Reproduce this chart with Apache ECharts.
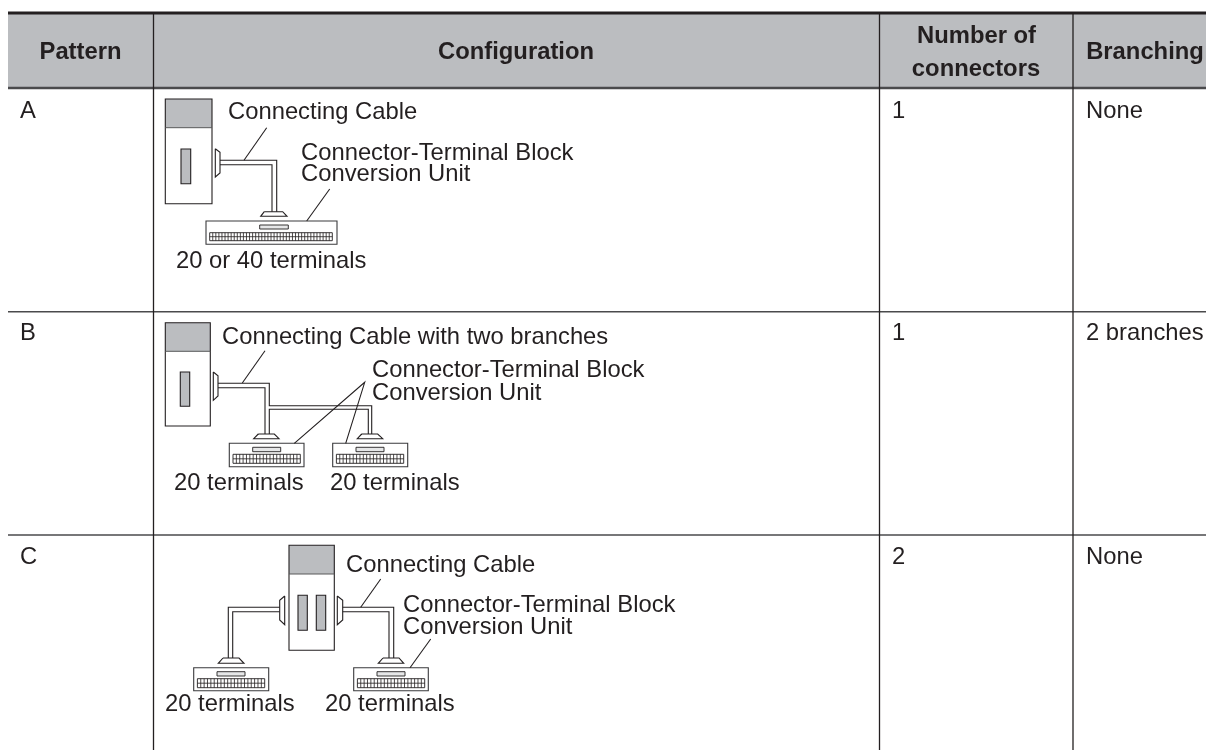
<!DOCTYPE html>
<html><head><meta charset="utf-8">
<style>html,body{margin:0;padding:0;background:#fff}#c{width:1206px;height:751px}</style>
<script src="https://cdn.jsdelivr.net/npm/echarts@6/dist/echarts.min.js"></script>
</head><body><div id="c"></div>
<script>
// ---------- table content ----------
const headers = [['Pattern',80.5,52],['Configuration',516,52],['Number of',976.5,36],['connectors',976,69.5],['Branching',1145,52]];
const patterns = [['A',20,111],['B',20,333],['C',20,557]];
const connectorCounts = [['1',892,111],['1',892,333],['2',892,557]];
const branching = [['None',1086,111],['2 branches',1086,333],['None',1086,557]];
const captions = [
  ['Connecting Cable',228,112],['Connector-Terminal Block',301,153.5],['Conversion Unit',301,174.5],['20 or 40 terminals',176,261],
  ['Connecting Cable with two branches',222,337],['Connector-Terminal Block',372,370],['Conversion Unit',372,393.5],['20 terminals',174,483.5],['20 terminals',330,483.5],
  ['Connecting Cable',346,565.5],['Connector-Terminal Block',403,605],['Conversion Unit',403,627.5],['20 terminals',165,704.5],['20 terminals',325,704.5]
];
// ---------- table rules: x0,y0,x1,y1,width,colour index ----------
const headerBand = [[8,14,1206,87]];
const tableRules = [
  [8,13,1206,13,3,0],[8,88,1206,88,2.5,1],[8,311.7,1206,311.7,1.6,1],[8,535,1206,535,1.6,1],
  [153.5,14,153.5,750,1.3,0],[879.5,14,879.5,750,1.3,0],[1073,14,1073,750,1.3,0]
];
// ---------- diagram pieces ----------
const units = [[165.3,99,212,203.7,127.7],[165.3,322.7,210.3,426,351.3],[289,545.3,334.3,650.3,574]];
const slots = [[181,149,190.7,183.7],[180.3,372,189.7,406.3],[298,595.3,307.3,630.3],[316.3,595.3,325.7,630.3]];
const blocks = [[206,221,337,244.3],[229.3,443.3,304,466.7],[332.7,443.3,407.7,466.7],[193.7,667.7,268.7,690.7],[353.7,667.7,428.3,690.7]];
const bars = [[259.7,225,288.3,229],[252.7,447.3,280.7,451.7],[356,447.3,384,451.7],[217,671.7,245,676],[377,671.7,405,676]];
const strips = [[209.7,232.7,332.3,240.7,40],[233,454.3,300.3,463.3,20],[336.4,454.3,403.7,463.3,20],[197.4,678.7,264.7,687.7,20],[357.4,678.7,424.7,687.7,20]];
const wires = [
  // pattern A
  [[215.3,148.7],[220,152.3],[220,173],[215.3,177],[215.3,148.7]],
  [[220,160.3],[276.7,160.3],[276.7,211.7]],[[220,164.7],[272,164.7],[272,211.7]],
  [[264.3,211.7],[282.7,211.7],[287,216.3],[260.7,216.3],[264.3,211.7]],
  [[266.7,127.7],[244,160.3]],[[329.7,189],[306.7,221]],
  // pattern B
  [[213.3,372],[218,375.7],[218,396],[213.3,400.3],[213.3,372]],
  [[218,383.3],[269.3,383.3],[269.3,405.7],[371.7,405.7],[371.7,434]],
  [[218,387.7],[265,387.7],[265,434]],
  [[269.3,434],[269.3,409.3],[368.3,409.3],[368.3,434]],
  [[258.3,434],[274.3,434],[279,438.7],[253.7,438.7],[258.3,434]],
  [[361.7,434],[377.7,434],[382.7,438.7],[357.3,438.7],[361.7,434]],
  [[265,350.7],[242.3,383]],[[294.3,443.3],[364.7,382.3],[345.7,443.3]],
  // pattern C
  [[337.3,596],[342.7,600.3],[342.7,620],[337.3,624.7],[337.3,596]],
  [[284.7,596],[279.7,600.3],[279.7,620],[284.7,624.7],[284.7,596]],
  [[342.7,607.3],[393.7,607.3],[393.7,658]],[[342.7,611.7],[389,611.7],[389,658]],
  [[279.7,607.3],[228.3,607.3],[228.3,658]],[[279.7,611.7],[232.7,611.7],[232.7,658]],
  [[223,658],[239,658],[244,663.3],[218.3,663.3],[223,658]],
  [[383,658],[399,658],[403.7,663.3],[378.3,663.3],[383,658]],
  [[380.7,579],[360.7,607.3]],[[430.7,639],[410,667.7]]
];
const INK = '#231f20', RULE = '#4a4a4c', GREY = '#bbbdc0';
const ruleColours = [INK, RULE];
const FONT = '"Liberation Sans", Arial, sans-serif';
const TEXT_SIZE = 23.8;

function rectEl(api, b, style) {
  const p = api.coord([b[0], b[1]]), q = api.coord([b[2], b[3]]);
  return {type:'rect', shape:{x:p[0], y:p[1], width:q[0]-p[0], height:q[1]-p[1]}, style};
}
function lineEl(api, pts, w, c) {
  return {type:'polyline', shape:{points:pts.map(v=>api.coord(v))}, style:{fill:'none', stroke:c, lineWidth:w, lineJoin:'miter'}};
}
function textEl(api, t, weight, align) {
  const p = api.coord([t[1], t[2]]);
  return {type:'text', x:p[0], y:p[1], style:{text:t[0], fill:INK, font:weight+' '+TEXT_SIZE+'px '+FONT, align:align||'left', verticalAlign:'middle'}};
}
function custom(list, fn, z) {
  return {type:'custom', coordinateSystem:'cartesian2d', clip:false, silent:true, z:z||2, animation:false,
    data:list.map((_, i)=>[i,0]), encode:{x:0,y:1}, renderItem:(params, api)=>fn(api, list[params.dataIndex])};
}
const opt = {
  animation:false, backgroundColor:'#fff',
  grid:{left:0,top:0,right:0,bottom:0},
  xAxis:{type:'value',min:0,max:1206,show:false},
  yAxis:{type:'value',min:0,max:751,inverse:true,show:false},
  series:[
    custom(headerBand,(a,b)=>rectEl(a,b,{fill:GREY}),1),
    custom(tableRules,(a,r)=>lineEl(a,[[r[0],r[1]],[r[2],r[3]]],r[4],ruleColours[r[5]]),5),
    custom(units,(a,u)=>({type:'group',children:[
      rectEl(a,[u[0],u[1],u[2],u[4]],{fill:GREY}),
      rectEl(a,[u[0],u[1],u[2],u[3]],{fill:'none',stroke:INK,lineWidth:1.1}),
      lineEl(a,[[u[0],u[4]],[u[2],u[4]]],1,'#58595b')]})),
    custom(slots,(a,s)=>rectEl(a,s,{fill:GREY,stroke:INK,lineWidth:1.1})),
    custom(blocks,(a,s)=>rectEl(a,s,{fill:'#fff',stroke:'#3a3a3c',lineWidth:1.1})),
    custom(bars,(a,s)=>rectEl(a,s,{fill:'#e6e7e8',stroke:INK,lineWidth:0.9}),3),
    custom(strips,(a,s)=>{
      const kids=[rectEl(a,s,{fill:'#fff',stroke:INK,lineWidth:0.9}),
        lineEl(a,[[s[0],(s[1]+s[3])/2],[s[2],(s[1]+s[3])/2]],0.8,INK)];
      for(let i=1;i<s[4];i++){const x=s[0]+(s[2]-s[0])*i/s[4];kids.push(lineEl(a,[[x,s[1]],[x,s[3]]],0.8,INK));}
      return {type:'group',children:kids};
    },3),
    custom(wires,(a,w)=>lineEl(a,w,1.1,INK),4),
    custom(headers,(a,t)=>textEl(a,t,'bold','center'),6),
    custom(patterns,(a,t)=>textEl(a,t,'normal'),6),
    custom(connectorCounts,(a,t)=>textEl(a,t,'normal'),6),
    custom(branching,(a,t)=>textEl(a,t,'normal'),6),
    custom(captions,(a,t)=>textEl(a,t,'normal'),6)
  ]
};
echarts.init(document.getElementById('c'),null,{renderer:'canvas'}).setOption(opt);
</script></body></html>
